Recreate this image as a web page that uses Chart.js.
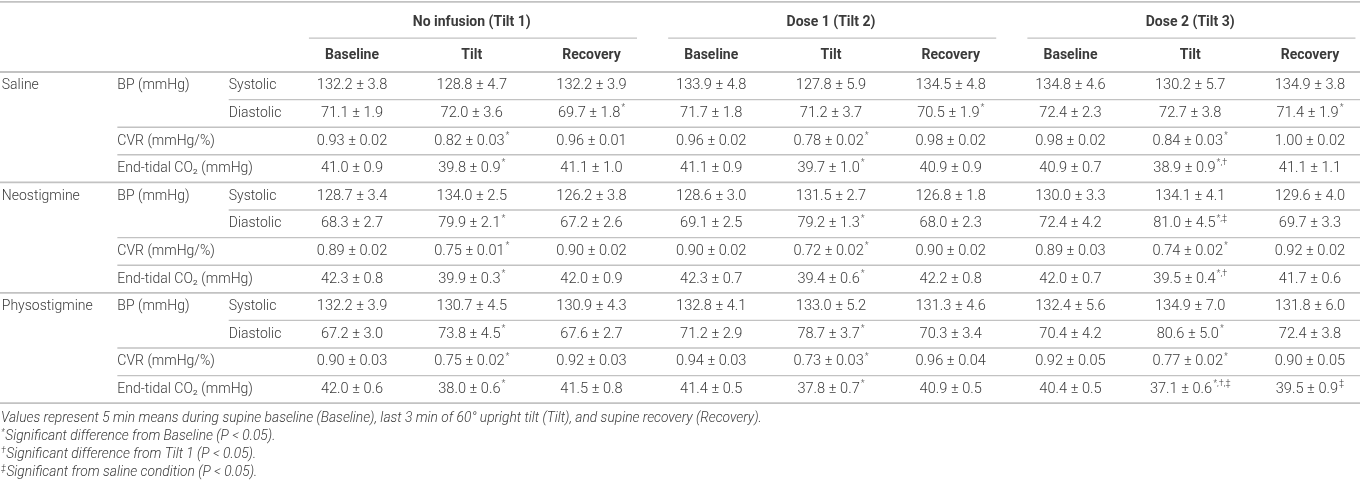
<!DOCTYPE html>
<html lang="en">
<head>
<meta charset="UTF-8">
<title>Hemodynamic responses to tilt</title>
<script src="https://cdn.jsdelivr.net/npm/chart.js"></script>
<style>
  html, body { margin: 0; padding: 0; background: #fff; }
  #wrap { width: 1360px; height: 482px; }
</style>
</head>
<body>
<div id="wrap"><canvas id="tableChart" width="1360" height="482"></canvas></div>
<script>
// ---- table content ----
const groups = ['No infusion (Tilt 1)', 'Dose 1 (Tilt 2)', 'Dose 2 (Tilt 3)'];
const phases = ['Baseline', 'Tilt', 'Recovery'];
const drugs = ['Saline', 'Neostigmine', 'Physostigmine'];
const measures = ['BP (mmHg)', 'CVR (mmHg/%)', 'End-tidal CO₂ (mmHg)'];
const bpParts = ['Systolic', 'Diastolic'];

// Saline
const salSysMean = [132.2, 128.8, 132.2, 133.9, 127.8, 134.5, 134.8, 130.2, 134.9];
const salSysSem  = [3.8, 4.7, 3.9, 4.8, 5.9, 4.8, 4.6, 5.7, 3.8];
const salSysSig  = ['', '', '', '', '', '', '', '', ''];
const salDiaMean = [71.1, 72.0, 69.7, 71.7, 71.2, 70.5, 72.4, 72.7, 71.4];
const salDiaSem  = [1.9, 3.6, 1.8, 1.8, 3.7, 1.9, 2.3, 3.8, 1.9];
const salDiaSig  = ['', '', '*', '', '', '*', '', '', '*'];
const salCvrMean = [0.93, 0.82, 0.96, 0.96, 0.78, 0.98, 0.98, 0.84, 1.00];
const salCvrSem  = [0.02, 0.03, 0.01, 0.02, 0.02, 0.02, 0.02, 0.03, 0.02];
const salCvrSig  = ['', '*', '', '', '*', '', '', '*', ''];
const salCo2Mean = [41.0, 39.8, 41.1, 41.1, 39.7, 40.9, 40.9, 38.9, 41.1];
const salCo2Sem  = [0.9, 0.9, 1.0, 0.9, 1.0, 0.9, 0.7, 0.9, 1.1];
const salCo2Sig  = ['', '*', '', '', '*', '', '', '*,†', ''];

// Neostigmine
const neoSysMean = [128.7, 134.0, 126.2, 128.6, 131.5, 126.8, 130.0, 134.1, 129.6];
const neoSysSem  = [3.4, 2.5, 3.8, 3.0, 2.7, 1.8, 3.3, 4.1, 4.0];
const neoSysSig  = ['', '', '', '', '', '', '', '', ''];
const neoDiaMean = [68.3, 79.9, 67.2, 69.1, 79.2, 68.0, 72.4, 81.0, 69.7];
const neoDiaSem  = [2.7, 2.1, 2.6, 2.5, 1.3, 2.3, 4.2, 4.5, 3.3];
const neoDiaSig  = ['', '*', '', '', '*', '', '', '*,‡', ''];
const neoCvrMean = [0.89, 0.75, 0.90, 0.90, 0.72, 0.90, 0.89, 0.74, 0.92];
const neoCvrSem  = [0.02, 0.01, 0.02, 0.02, 0.02, 0.02, 0.03, 0.02, 0.02];
const neoCvrSig  = ['', '*', '', '', '*', '', '', '*', ''];
const neoCo2Mean = [42.3, 39.9, 42.0, 42.3, 39.4, 42.2, 42.0, 39.5, 41.7];
const neoCo2Sem  = [0.8, 0.3, 0.9, 0.7, 0.6, 0.8, 0.7, 0.4, 0.6];
const neoCo2Sig  = ['', '*', '', '', '*', '', '', '*,†', ''];

// Physostigmine
const phySysMean = [132.2, 130.7, 130.9, 132.8, 133.0, 131.3, 132.4, 134.9, 131.8];
const phySysSem  = [3.9, 4.5, 4.3, 4.1, 5.2, 4.6, 5.6, 7.0, 6.0];
const phySysSig  = ['', '', '', '', '', '', '', '', ''];
const phyDiaMean = [67.2, 73.8, 67.6, 71.2, 78.7, 70.3, 70.4, 80.6, 72.4];
const phyDiaSem  = [3.0, 4.5, 2.7, 2.9, 3.7, 3.4, 4.2, 5.0, 3.8];
const phyDiaSig  = ['', '*', '', '', '*', '', '', '*', ''];
const phyCvrMean = [0.90, 0.75, 0.92, 0.94, 0.73, 0.96, 0.92, 0.77, 0.90];
const phyCvrSem  = [0.03, 0.02, 0.03, 0.03, 0.03, 0.04, 0.05, 0.02, 0.05];
const phyCvrSig  = ['', '*', '', '', '*', '', '', '*', ''];
const phyCo2Mean = [42.0, 38.0, 41.5, 41.4, 37.8, 40.9, 40.4, 37.1, 39.5];
const phyCo2Sem  = [0.6, 0.6, 0.8, 0.5, 0.7, 0.5, 0.5, 0.6, 0.9];
const phyCo2Sig  = ['', '*', '', '', '*', '', '', '*,†,‡', '‡'];

const footMarks = ['', '*', '†', '‡'];
const footTexts = [
    'Values represent 5 min means during supine baseline (Baseline), last 3 min of 60° upright tilt (Tilt), and supine recovery (Recovery).',
    'Significant difference from Baseline (P < 0.05).',
    'Significant difference from Tilt 1 (P < 0.05).',
    'Significant from saline condition (P < 0.05).'
];

// rows in display order: [mean, sem, marks, decimals]
const tableRows = [
    [salSysMean, salSysSem, salSysSig, 1], [salDiaMean, salDiaSem, salDiaSig, 1],
    [salCvrMean, salCvrSem, salCvrSig, 2], [salCo2Mean, salCo2Sem, salCo2Sig, 1],
    [neoSysMean, neoSysSem, neoSysSig, 1], [neoDiaMean, neoDiaSem, neoDiaSig, 1],
    [neoCvrMean, neoCvrSem, neoCvrSig, 2], [neoCo2Mean, neoCo2Sem, neoCo2Sig, 1],
    [phySysMean, phySysSem, phySysSig, 1], [phyDiaMean, phyDiaSem, phyDiaSig, 1],
    [phyCvrMean, phyCvrSem, phyCvrSig, 2], [phyCo2Mean, phyCo2Sem, phyCo2Sig, 1]
];

// ---- layout (in scale units: x = column index, y = row index) ----
const X_MIN = -2.94, X_MAX = 8.418;
const Y_MIN = -2.609, Y_MAX = 14.855;
const X_DRUG = -2.925, X_MEASURE = -1.96, X_PART = -1.03;
const Y_TOP = -2.54, Y_GROUP = -1.79, Y_GROUP_RULE = -1.23, Y_PHASE = -0.6;
const Y_FOOT = [12.56, 13.21, 13.86, 14.51];

const RULE = '#c2c2c2';
const TEXT = '#3a3a3a';
const FONT = 'Roboto, "Liberation Sans", sans-serif';

function rule(x1, x2, y, width) {
    return {
        data: [{x: x1, y: y}, {x: x2, y: y}],
        showLine: true,
        borderColor: RULE,
        borderWidth: width || 1.4,
        pointRadius: 0,
        fill: false
    };
}

const rules = [rule(X_MIN, X_MAX, Y_TOP, 1.8), rule(X_MIN, X_MAX, 0, 1.8)];
groups.forEach((g, i) => {
    rules.push(rule(i * 3 - 0.36, Math.min(i * 3 + 2.38, X_MAX), Y_GROUP_RULE, 1.2));
});
drugs.forEach((d, b) => {
    rules.push(rule(X_PART, X_MAX, b * 4 + 1));
    rules.push(rule(X_MEASURE, X_MAX, b * 4 + 2));
    rules.push(rule(X_MEASURE, X_MAX, b * 4 + 3));
    rules.push(rule(X_MIN, X_MAX, b * 4 + 4, 1.8));
});

function drawWithMarks(ctx, text, marks, cx, cy, size, weight) {
    const small = Math.round(size * 0.62);
    ctx.font = `${weight} ${size}px ${FONT}`;
    const w = ctx.measureText(text).width;
    let mw = 0;
    if (marks) {
        ctx.font = `${weight} ${small}px ${FONT}`;
        mw = ctx.measureText(marks).width + 1;
    }
    const x0 = cx - (w + mw) / 2;
    ctx.font = `${weight} ${size}px ${FONT}`;
    ctx.fillText(text, x0, cy);
    if (marks) {
        ctx.font = `${weight} ${small}px ${FONT}`;
        ctx.fillText(marks, x0 + w + 1, cy - size * 0.38);
    }
}

const tableText = {
    id: 'tableText',
    afterDatasetsDraw(chart) {
        const ctx = chart.ctx;
        const xs = chart.scales.x, ys = chart.scales.y;
        const px = v => xs.getPixelForValue(v);
        const py = v => ys.getPixelForValue(v);
        ctx.save();
        ctx.fillStyle = TEXT;
        ctx.textBaseline = 'middle';

        // header
        ctx.textAlign = 'center';
        ctx.font = `bold 14px ${FONT}`;
        groups.forEach((g, i) => ctx.fillText(g, px(i * 3 + 1), py(Y_GROUP)));
        groups.forEach((g, i) => {
            phases.forEach((p, j) => ctx.fillText(p, px(i * 3 + j), py(Y_PHASE)));
        });

        // row labels
        ctx.textAlign = 'left';
        ctx.font = `300 14px ${FONT}`;
        drugs.forEach((d, b) => {
            const r = b * 4;
            ctx.fillText(d, px(X_DRUG), py(r + 0.5));
            ctx.fillText(measures[0], px(X_MEASURE), py(r + 0.5));
            ctx.fillText(bpParts[0], px(X_PART), py(r + 0.5));
            ctx.fillText(bpParts[1], px(X_PART), py(r + 1.5));
            ctx.fillText(measures[1], px(X_MEASURE), py(r + 2.5));
            ctx.fillText(measures[2], px(X_MEASURE), py(r + 3.5));
        });

        // cells
        tableRows.forEach((row, r) => {
            const [mean, sem, sig, dec] = row;
            mean.forEach((m, c) => {
                const txt = m.toFixed(dec) + ' \u00b1 ' + sem[c].toFixed(dec);
                drawWithMarks(ctx, txt, sig[c], px(c), py(r + 0.5), 14.6, 300);
            });
        });

        // footnotes
        ctx.textAlign = 'left';
        footTexts.forEach((t, i) => {
            let x = px(X_MIN) + 1;
            if (footMarks[i]) {
                ctx.font = `italic 300 9px ${FONT}`;
                ctx.fillText(footMarks[i], x, py(Y_FOOT[i]) - 4);
                x += ctx.measureText(footMarks[i]).width + 0.5;
            }
            ctx.font = `italic 300 13.8px ${FONT}`;
            ctx.fillText(t, x, py(Y_FOOT[i]));
        });
        ctx.restore();
    }
};

new Chart(document.getElementById('tableChart'), {
    type: 'scatter',
    data: { datasets: rules },
    options: {
        responsive: false,
        animation: false,
        layout: { padding: 0 },
        plugins: { legend: { display: false }, tooltip: { enabled: false } },
        scales: {
            x: { type: 'linear', min: X_MIN, max: X_MAX, display: false },
            y: { type: 'linear', min: Y_MIN, max: Y_MAX, reverse: true, display: false }
        }
    },
    plugins: [tableText]
});
</script>
</body>
</html>
